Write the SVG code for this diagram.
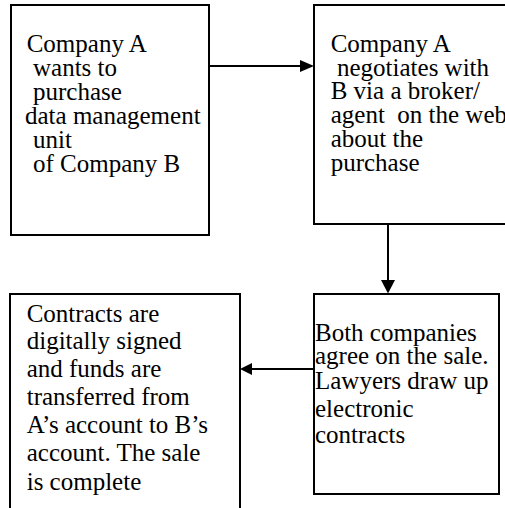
<svg xmlns="http://www.w3.org/2000/svg" width="505" height="508" viewBox="0 0 505 508">
<style>
.box{fill:#fff;stroke:#000;stroke-width:2}
.t{font-family:"Liberation Serif","Times New Roman",serif;font-size:25px;fill:#000}
.ln{stroke:#000;stroke-width:2;fill:none}
.hd{fill:#000;stroke:none}
</style>
<rect width="505" height="508" fill="#fff"/>
<g id="node-a">
<rect class="box" x="11" y="5" width="198" height="230"/>
<text class="t"><tspan x="26.7" y="52">Company A</tspan><tspan x="33" y="76">wants to</tspan><tspan x="33" y="100">purchase</tspan><tspan x="25" y="124">data management</tspan><tspan x="33" y="148">unit</tspan><tspan x="33" y="172">of Company B</tspan></text>
</g>
<g id="node-b">
<rect class="box" x="314" y="5" width="220" height="219"/>
<text class="t"><tspan x="330.7" y="52">Company A</tspan><tspan x="337" y="76">negotiates with</tspan><tspan x="330.7" y="99">B via a broker/</tspan><tspan x="330.7" y="123" xml:space="preserve">agent  on the web</tspan><tspan x="330.7" y="147">about the</tspan><tspan x="330.7" y="171">purchase</tspan></text>
</g>
<g id="node-c">
<rect class="box" x="314" y="294" width="185" height="200"/>
<text class="t"><tspan x="315" y="341">Both companies</tspan><tspan x="315" y="364">agree on the sale.</tspan><tspan x="315" y="389">Lawyers draw up</tspan><tspan x="315" y="417">electronic</tspan><tspan x="315" y="443">contracts</tspan></text>
</g>
<g id="node-d">
<rect class="box" x="10" y="294" width="230" height="230"/>
<text class="t"><tspan x="26.7" y="322">Contracts are</tspan><tspan x="26.7" y="349">digitally signed</tspan><tspan x="26.7" y="377">and funds are</tspan><tspan x="26.7" y="405">transferred from</tspan><tspan x="26.7" y="433">A’s account to B’s</tspan><tspan x="26.7" y="461">account. The sale</tspan><tspan x="26.7" y="490">is complete</tspan></text>
</g>
<g id="connectors">
<line class="ln" x1="210" y1="66" x2="301" y2="66"/>
<polygon class="hd" points="300,60 314,66 300,72"/>
<line class="ln" x1="388" y1="224" x2="388" y2="281"/>
<polygon class="hd" points="381,280 388,293.5 395,280"/>
<line class="ln" x1="314" y1="369" x2="251" y2="369"/>
<polygon class="hd" points="252,363 240,369 252,375"/>
</g>
</svg>
